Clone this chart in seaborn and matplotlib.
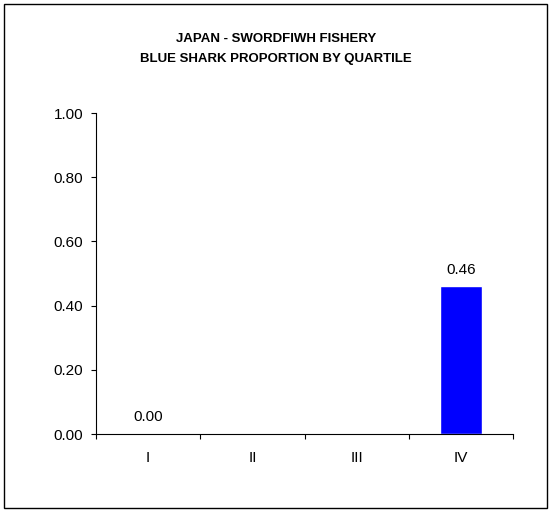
import numpy as np
import pandas as pd
import matplotlib
matplotlib.use("Agg")
import matplotlib.pyplot as plt
from matplotlib.patches import Rectangle
import seaborn as sns

quartiles = ["I", "II", "III", "IV"]
proportion = [0.00, np.nan, np.nan, 0.46]
title_lines = ["JAPAN - SWORDFIWH FISHERY", "BLUE SHARK PROPORTION BY QUARTILE"]
y_ticks = [0.0, 0.2, 0.4, 0.6, 0.8, 1.0]

sns.set_theme(style="white")
plt.rcParams["font.family"] = ["Liberation Sans", "DejaVu Sans"]
plt.rcParams["text.color"] = "black"
plt.rcParams["xtick.labelcolor"] = "black"
plt.rcParams["ytick.labelcolor"] = "black"

df = pd.DataFrame({"quartile": quartiles, "proportion": proportion})

fig = plt.figure(figsize=(5.52, 5.11), dpi=100)
fig.patch.set_facecolor("white")
# outer chart frame
fig.add_artist(Rectangle((4 / 552, 3 / 511), 543 / 552, 504 / 511,
                         transform=fig.transFigure, fill=False,
                         edgecolor="black", linewidth=1.0))

ax = fig.add_axes([96 / 552, 1 - 434 / 511, 417 / 552, 321 / 511])
sns.barplot(data=df, x="quartile", y="proportion", color="#0000FF",
            width=0.4, saturation=1, ax=ax, order=quartiles)

for i, v in enumerate(proportion):
    if not np.isnan(v):
        ax.text(i, v + 0.03, f"{v:.2f}", ha="center", va="bottom",
                fontsize=11, color="black")

ax.set_xlim(-0.5, 3.5)
ax.set_ylim(0, 1.0)
ax.set_yticks(y_ticks)
ax.set_yticklabels([f"{t:.2f}" for t in y_ticks], fontsize=11)
ax.set_xticks(range(len(quartiles)))
ax.set_xticklabels(quartiles, fontsize=11)
ax.tick_params(axis="x", which="major", length=0, pad=12)
ax.set_xticks(np.arange(-0.5, 4.0, 1.0), minor=True)
ax.tick_params(axis="x", which="minor", length=3.8, direction="out",
               width=0.8, color="black", bottom=True)
ax.tick_params(axis="y", length=3.8, direction="out", width=0.8,
               color="black", left=True, pad=5.5)
ax.set_xlabel("")
ax.set_ylabel("")

for side in ["top", "right"]:
    ax.spines[side].set_visible(False)
for side in ["left", "bottom"]:
    ax.spines[side].set_color("black")
    ax.spines[side].set_linewidth(0.8)

fig.text(0.5, 1 - 39 / 511, title_lines[0], ha="center", va="center",
         fontsize=9.5, fontweight="bold", color="black")
fig.text(0.5, 1 - 59 / 511, title_lines[1], ha="center", va="center",
         fontsize=9.5, fontweight="bold", color="black")

fig.savefig("out.png", dpi=100, facecolor="white")
